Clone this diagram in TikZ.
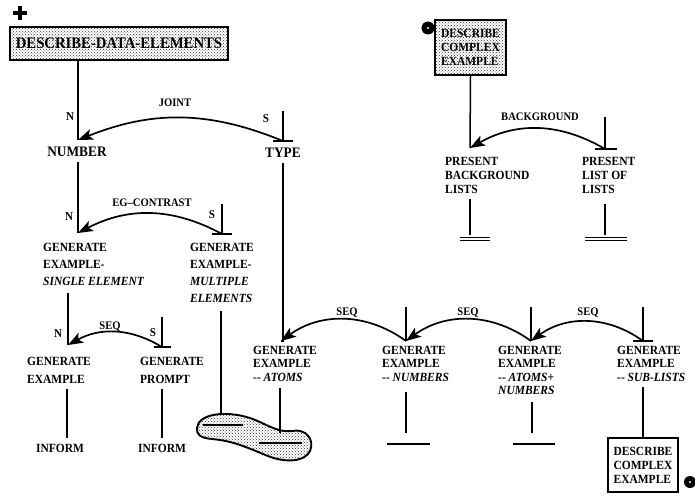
\documentclass[tikz,border=0pt]{standalone}
\usepackage{fontspec}
\setmainfont{Liberation Serif}[FakeStretch=0.92]
\usetikzlibrary{arrows.meta,patterns,positioning}

\begin{document}
\begin{tikzpicture}[
    x=1pt, y=-1pt,
    link/.style={line width=1.5pt},
    rel/.style={line width=1.7pt, -{Stealth[length=15pt,width=11pt,inset=3.5pt]}},
    plan/.style={font=\fontsize{12.5}{#1}\selectfont\bfseries, align=left, inner sep=0pt, anchor=north west},
    plan/.default=17,
    head/.style={font=\fontsize{14.5}{16}\selectfont\bfseries, inner sep=0pt},
    relname/.style={font=\fontsize{11.5}{12}\selectfont\bfseries, inner sep=0pt},
    nslabel/.style={font=\fontsize{12}{13}\selectfont\bfseries, inner sep=0pt},
    dotbox/.style={draw, line width=1.9pt, pattern=crosshatch dots, pattern color=black!80},
    plainbox/.style={draw, line width=1.4pt, align=left, font=\fontsize{12.5}{14}\selectfont\bfseries},
    satbar/.style={line width=1.5pt},
    donebar/.style={double, line width=1.1pt, double distance=2.2pt}
]
    \useasboundingbox (0,0) rectangle (695,495);

    % Goal markers
    \draw[line width=4.5pt] (13,13) -- (27,13) (20,6) -- (20,20);
    \fill (428,28) circle (6.5); \fill[white] (428,28) circle (1.2);
    \fill (690,482) circle (6); \fill[white] (690,482) circle (1.1);

    % Top goal
    \node[dotbox, minimum width=218pt, minimum height=33pt, font=\fontsize{16}{18}\selectfont\bfseries] (dde) at (119,43.5) {DESCRIBE-DATA-ELEMENTS};

    % JOINT
    \node[head] (num) at (77,152) {NUMBER};
    \node[head] (type) at (283,153) {TYPE};
    \coordinate (numtop) at (78,140);
    \coordinate (typetop) at (283,141);
    \coordinate (typein) at (283,111);
    \draw[link] (dde.south -| numtop) -- (numtop);
    \draw[link] (typein) -- (typetop);
    \draw[satbar] ([xshift=-10pt]typetop) -- ([xshift=10pt]typetop);
    \draw[rel] (typetop) to[bend right=22] (numtop);
    \node[relname] (joint) at (175,103) {JOINT};
    \node[nslabel] (n1) at (70,117) {N};
    \node[nslabel] (s1) at (266,119) {S};

    % EG-CONTRAST
    \node[plan] (gen1) at (43,243) {GENERATE\\EXAMPLE-\\\textit{SINGLE ELEMENT}};
    \node[plan] (gen2) at (190,243) {GENERATE\\EXAMPLE-\\\textit{MULTIPLE}\\\textit{ELEMENTS}};
    \coordinate (gen1top) at (78,233);
    \coordinate (gen2top) at (222,234);
    \coordinate (gen2in) at (222,204);
    \draw[link, shorten <=5pt] (num.south -| numtop) -- (gen1top);
    \draw[link] (gen2in) -- (gen2top);
    \draw[satbar] ([xshift=-10pt]gen2top) -- ([xshift=10pt]gen2top);
    \draw[rel] (gen2top) to[bend right=28] (gen1top);
    \node[relname] (egc) at (152,203) {EG--CONTRAST};
    \node[nslabel] (n2) at (69,217) {N};
    \node[nslabel] (s2) at (212,215) {S};

    % SEQ (example + prompt)
    \node[plan=18] (ge) at (27,357) {GENERATE\\EXAMPLE};
    \node[plan=18] (gp) at (140,357) {GENERATE\\PROMPT};
    \coordinate (getop) at (68,345);
    \coordinate (gptop) at (162,347);
    \coordinate (gpin) at (162,317);
    \draw[link, shorten <=7pt] (gen1.south -| getop) -- (getop);
    \draw[link] (gpin) -- (gptop);
    \draw[satbar] ([xshift=-8pt]gptop) -- ([xshift=9pt]gptop);
    \draw[rel] (gptop) to[bend right=30] (getop);
    \node[relname] (seq1) at (110,327) {SEQ};
    \node[nslabel] (n3) at (58,334) {N};
    \node[nslabel] (s3) at (153,333) {S};

    \node[head, font=\fontsize{12.5}{14}\selectfont\bfseries] (inf1) at (60,448) {INFORM};
    \node[head, font=\fontsize{12.5}{14}\selectfont\bfseries] (inf2) at (162,448) {INFORM};
    \coordinate (gebot) at (67,438);
    \coordinate (gpbot) at (162,438);
    \draw[link, shorten <=5pt] (ge.south -| gebot) -- (gebot);
    \draw[link, shorten <=5pt] (gp.south -| gpbot) -- (gpbot);

    % SEQ chain
    \node[plan=13.5] (ga) at (253,346) {GENERATE\\EXAMPLE\\-{}- \textit{ATOMS}};
    \node[plan=13.5] (gn) at (382,346) {GENERATE\\EXAMPLE\\-{}- \textit{NUMBERS}};
    \node[plan=13.5] (gan) at (498,346) {GENERATE\\EXAMPLE\\-{}- \textit{ATOMS+}\\\textit{NUMBERS}};
    \node[plan=13.5] (gs) at (617,346) {GENERATE\\EXAMPLE\\-{}- \textit{SUB-LISTS}};
    \coordinate (gatop) at (281,341);
    \coordinate (gntop) at (406,341);
    \coordinate (gantop) at (531,341);
    \coordinate (gstop) at (643,341);
    \coordinate (gnin) at (406,307);
    \coordinate (ganin) at (531,307);
    \coordinate (gsin) at (643,307);
    \draw[link, shorten <=5pt] (type.south -| typetop) -- (type.south |- gatop) -- (gatop);
    \draw[link] (gnin) -- (gntop);
    \draw[link] (ganin) -- (gantop);
    \draw[link] (gsin) -- (gstop);
    \draw[satbar] ([xshift=-10pt]gstop) -- ([xshift=10pt]gstop);
    \draw[rel] (gntop) to[bend right=36] (gatop);
    \draw[rel] (gantop) to[bend right=36] (gntop);
    \draw[rel] (gstop) to[bend right=36] (gantop);
    \node[relname] (seq2) at (347,313) {SEQ};
    \node[relname] (seq3) at (468,313) {SEQ};
    \node[relname] (seq4) at (588,313) {SEQ};

    % Shared sub-plan blob
    \draw[line width=1.9pt, pattern=crosshatch dots, pattern color=black!80]
        (197,428) .. controls (198,414) and (225,410) .. (250,418)
        .. controls (265,423) and (277,433) .. (292,431)
        .. controls (306,428) and (315,440) .. (310,451)
        .. controls (305,462) and (285,463) .. (268,456)
        .. controls (250,449) and (235,441) .. (212,439)
        .. controls (200,438) and (196,434) .. (197,428) -- cycle;
    \draw[link] (203,425) -- (243,425);
    \draw[link] (259,443) -- (302,443);
    \coordinate (gen2bot) at (221,415);
    \coordinate (gabot) at (280,433);
    \draw[link, shorten <=8pt] (gen2.south -| gen2bot) -- (gen2bot);
    \draw[link, shorten <=6pt] (ga.south -| gabot) -- (gabot);

    % Leaves of the chain
    \coordinate (gnbot) at (406,433);
    \coordinate (ganbot) at (532,433);
    \draw[link, shorten <=10pt] (gn.south -| gnbot) -- (gnbot);
    \draw[link, shorten <=7pt] (gan.south -| ganbot) -- (ganbot);
    \draw[satbar] (387,444) -- (430,444);
    \draw[satbar] (513,444) -- (555,444);

    \node[plainbox, minimum width=70pt, minimum height=54pt] (dce2) at (643,465) {DESCRIBE\\COMPLEX\\EXAMPLE};
    \draw[link, shorten <=5pt] (gs.south -| dce2.north) -- (dce2.north);

    % BACKGROUND
    \node[dotbox, minimum width=71pt, minimum height=55pt, align=left, font=\fontsize{12.5}{14}\selectfont\bfseries] (dce1) at (470.5,47.5) {DESCRIBE\\COMPLEX\\EXAMPLE};
    \node[plan=14] (pbl) at (445,157) {PRESENT\\BACKGROUND\\LISTS};
    \node[plan=14] (pll) at (582,157) {PRESENT\\LIST OF\\LISTS};
    \coordinate (pbltop) at (470,148);
    \coordinate (plltop) at (605,149);
    \coordinate (pllin) at (605,117);
    \draw[link] (dce1.south) -- (pbltop);
    \draw[link] (pllin) -- (plltop);
    \draw[satbar] ([xshift=-10pt]plltop) -- ([xshift=12pt]plltop);
    \draw[rel] (plltop) to[bend right=30] (pbltop);
    \node[relname] (bg) at (540,117) {BACKGROUND};

    \coordinate (pblbot) at (470,235);
    \coordinate (pllbot) at (605,235);
    \draw[link, shorten <=5pt] (pbl.south -| pblbot) -- (pblbot);
    \draw[link, shorten <=10pt] (pll.south -| pllbot) -- (pllbot);
    \draw[donebar] (460,239) -- (490,239);
    \draw[donebar] (585,239) -- (627,239);
\end{tikzpicture}
\end{document}
